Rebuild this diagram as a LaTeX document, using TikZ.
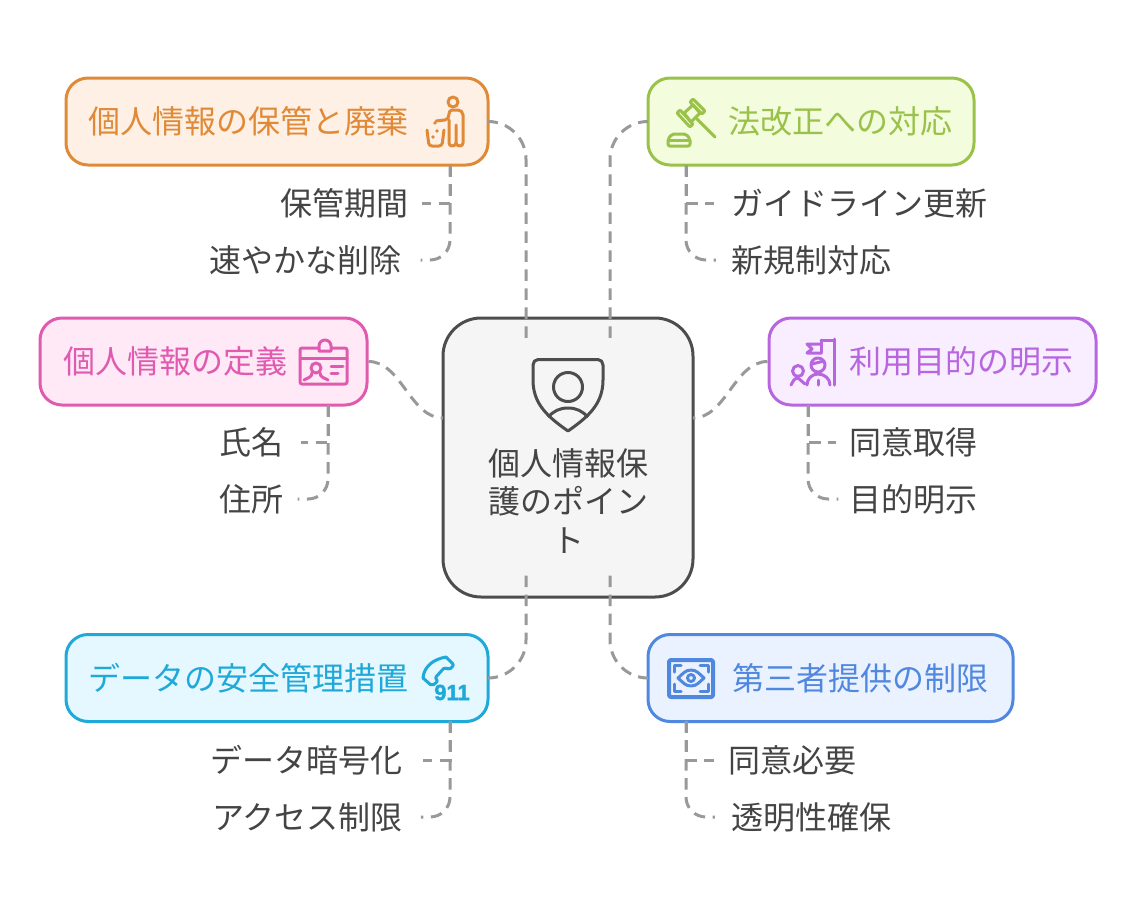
\documentclass[tikz,border=0pt]{standalone}
\usepackage{fontspec}
\setmainfont{Noto Sans CJK JP}
\newfontfamily\numfont[BoldFeatures={FakeBold=1.5}]{Liberation Sans}
\usetikzlibrary{arrows}
\definecolor{inkgray}{HTML}{444444}
\definecolor{linkgray}{HTML}{999999}
\definecolor{hubline}{HTML}{4D4D4D}
\definecolor{hubfill}{HTML}{F5F5F5}
\definecolor{keepline}{HTML}{E08A38}
\definecolor{keepfill}{HTML}{FFF0E5}
\definecolor{lawline}{HTML}{9AC24A}
\definecolor{lawfill}{HTML}{F3FCDD}
\definecolor{defline}{HTML}{E05BB0}
\definecolor{deffill}{HTML}{FFE9F6}
\definecolor{purpline}{HTML}{B866E0}
\definecolor{purpfill}{HTML}{F8EEFF}
\definecolor{safeline}{HTML}{1FA9D8}
\definecolor{safefill}{HTML}{E5F7FF}
\definecolor{thirdline}{HTML}{5088E0}
\definecolor{thirdfill}{HTML}{EBF2FF}
\tikzset{
	topic/.style={draw=#1line, fill=#1fill, text=#1line, line width=3pt, rounded corners=22pt, minimum height=87pt, inner sep=0pt, font=\fontsize{32}{38.5}\selectfont},
	hub/.style={draw=hubline, fill=hubfill, text=inkgray, line width=3pt, rounded corners=38pt, minimum width=250pt, minimum height=279pt, inner sep=0pt, align=center, font=\fontsize{32}{38.5}\selectfont},
	leaf/.style={text=inkgray, inner xsep=#1, inner ysep=2pt, font=\fontsize{32}{38.5}\selectfont},
	link/.style={draw=linkgray, line width=3pt, dash pattern=on 11.5pt off 7.5pt},
	icon/.style={draw=#1line, line width=3pt, line cap=round, line join=round, fill=none}
}
\begin{document}
\begin{tikzpicture}[x=1pt, y=-1pt]
	\useasboundingbox (0,0) rectangle (1137,916);
	\node[hub]	(HUB) at (568,457.5)	{\rule{0pt}{113pt}個人情報保\\護のポイン\\ト};
	\node[topic=keep, minimum width=422pt]	(KEEP) at (277,121.5)	{個人情報の保管と廃棄\hspace{58pt}\null};
	\node[topic=law, minimum width=326pt]	(LAW) at (811,121.5)	{\hspace*{58pt}法改正への対応};
	\node[topic=def, minimum width=327pt]	(DEFN) at (203.5,361.5)	{個人情報の定義\hspace{57pt}\null};
	\node[topic=purp, minimum width=327pt]	(PURP) at (932.5,361.5)	{\hspace*{58pt}利用目的の明示};
	\node[topic=safe, minimum width=422pt]	(SAFE) at (277,678)	{データの安全管理措置\hspace{58pt}\null};
	\node[topic=third, minimum width=365pt]	(THIRD) at (830.5,678)	{\hspace*{59pt}第三者提供の制限};

	\node[leaf=14pt]	(KEEPA) [below of=KEEP, node distance=81.5pt, xshift=67pt]		{保管期間};
	\node[leaf=19pt]	(KEEPB) [below of=KEEP, node distance=138.5pt, xshift=28.5pt]	{速やかな削除};
	\node[leaf=17pt]	(LAWA) [below of=LAW, node distance=81.5pt, xshift=48.5pt]		{ガイドライン更新};
	\node[leaf=15pt]	(LAWB) [below of=LAW, node distance=138.5pt]					{新規制対応};
	\node[leaf=17pt]	(DEFNA) [below of=DEFN, node distance=80.5pt, xshift=48pt]		{氏名};
	\node[leaf=14pt]	(DEFNB) [below of=DEFN, node distance=137.5pt, xshift=48pt]		{住所};
	\node[leaf=13pt]	(PURPA) [below of=PURP, node distance=80.5pt, xshift=-19pt]		{同意取得};
	\node[leaf=11pt]	(PURPB) [below of=PURP, node distance=137.5pt, xshift=-19pt]	{目的明示};
	\node[leaf=21pt]	(SAFEA) [below of=SAFE, node distance=82pt, xshift=29pt]		{データ暗号化};
	\node[leaf=18pt]	(SAFEB) [below of=SAFE, node distance=139pt, xshift=30.5pt]		{アクセス制限};
	\node[leaf=14pt]	(THIRDA) [below of=THIRD, node distance=82pt, xshift=-38.5pt]	{同意必要};
	\node[leaf=16pt]	(THIRDB) [below of=THIRD, node distance=139pt, xshift=-19.5pt]	{透明性確保};

	\coordinate (HUBTL) at (526,345);
	\coordinate (HUBTR) at (610,345);
	\coordinate (HUBBL) at (526,575);
	\coordinate (HUBBR) at (610,575);
	\coordinate (HUBWN) at (443,418);
	\coordinate (HUBEN) at (693,418);

	\draw[link, rounded corners=38pt]	(KEEP.east) -| (HUBTL);
	\draw[link, rounded corners=38pt]	(LAW.west) -| (HUBTR);
	\draw[link, rounded corners=38pt]	(SAFE.east) -| (HUBBL);
	\draw[link, rounded corners=38pt]	(THIRD.west) -| (HUBBR);
	\draw[link]	(DEFN.east) to[out=0, in=180, looseness=0.9] (HUBWN);
	\draw[link]	(PURP.west) to[out=180, in=0, looseness=0.9] (HUBEN);

	\coordinate (KEEPT) at (450,165);
	\coordinate (LAWT) at (686,165);
	\coordinate (DEFNT) at (328,405);
	\coordinate (PURPT) at (808,405);
	\coordinate (SAFET) at (450,721);
	\coordinate (THIRDT) at (686,721);

	\draw[link]	(KEEPT) |- (KEEPA.east);
	\draw[link, rounded corners=20pt]	(KEEPT) |- (KEEPB.east);
	\draw[link]	(LAWT) |- (LAWA.west);
	\draw[link, rounded corners=20pt]	(LAWT) |- (LAWB.west);
	\draw[link]	(DEFNT) |- (DEFNA.east);
	\draw[link, rounded corners=20pt]	(DEFNT) |- (DEFNB.east);
	\draw[link]	(PURPT) |- (PURPA.west);
	\draw[link, rounded corners=20pt]	(PURPT) |- (PURPB.west);
	\draw[link]	(SAFET) |- (SAFEA.east);
	\draw[link, rounded corners=20pt]	(SAFET) |- (SAFEB.east);
	\draw[link]	(THIRDT) |- (THIRDA.west);
	\draw[link, rounded corners=20pt]	(THIRDT) |- (THIRDB.west);

	% bin and person
	\draw[icon=keep]	(453,102) circle (5pt);
	\draw[icon=keep]	(436,121) -- (445,120) to[out=0, in=-90] (449,114) to[out=90, in=180] (452,110) -- (458,110) to[out=0, in=90] (463,115) -- (463,143) to[out=-90, in=0] (460,146) to[out=180, in=-90] (456,143) -- (456,125);
	\draw[icon=keep]	(449,120) -- (449,143) to[out=-90, in=180] (452,146) to[out=0, in=-90] (456,143);
	\draw[icon=keep, rounded corners=3pt]	(427,130) -- (429,146) -- (442,146) -- (444,130);
	\fill[keepline]	(435,123) circle (1.8pt) (437,131) circle (1.8pt) (433,137) circle (1.8pt);

	% gavel
	\draw[icon=law]	(697,119) -- (715,137);
	\draw[icon=law]	(684,113) -- (693,105) -- (700,113) -- (691,122) -- cycle;
	\draw[icon=law, rounded corners=1pt]	(677,113) -- (680,110) -- (693,124) -- (690,127) -- cycle;
	\draw[icon=law, rounded corners=1pt]	(690,102) -- (693,99) -- (705,111) -- (702,114) -- cycle;
	\draw[icon=law, rounded corners=2pt]	(668,146) -- (668,139) -- (672,134) -- (686,134) -- (690,139) -- (690,146) -- cycle;
	\draw[icon=law]	(668,140) -- (690,140);

	% badge
	\draw[icon=def, rounded corners=2pt]	(300,348) rectangle (347,384);
	\draw[icon=def, fill=deffill]	(319,351) -- (319,346) to[out=90, in=180] (325,340) to[out=0, in=90] (331,346) -- (331,351) -- cycle;
	\draw[icon=def]	(300,358) -- (347,358);
	\draw[icon=def]	(316,368) circle (5pt);
	\draw[icon=def]	(304,380) to[out=30, in=-90] (312,373);
	\draw[icon=def]	(328,380) to[out=150, in=-90] (320,373);
	\draw[icon=def]	(331,366) -- (343,366);
	\draw[icon=def]	(331,373) -- (338,373);

	% flag and people
	\draw[icon=purp]	(834,339) -- (834,385);
	\draw[icon=purp]	(821,340) -- (834,340);
	\draw[icon=purp]	(821,340) -- (821,353);
	\draw[icon=purp]	(821,344) -- (807,344) -- (812,349) -- (807,353) -- (821,353);
	\draw[icon=purp]	(818,365) circle (7pt);
	\draw[icon=purp]	(812,364) -- (824,361);
	\draw[icon=purp]	(807,385) to[out=90, in=180] (818,374) to[out=0, in=90] (830,385);
	\draw[icon=purp]	(818,380) -- (818,385);
	\draw[icon=purp]	(798,371) circle (5.5pt);
	\draw[icon=purp]	(791,385) to[out=60, in=180] (798,378) -- (805,384);

	% phone
	\draw[icon=safe, rounded corners=2pt]	(446,657) -- (454,665) -- (449,670) -- (445,667) -- (435,678) -- (438,681) -- (432,686) -- (423,678);
	\draw[icon=safe]	(423,678) to[out=85, in=190] (446,657);
	\node[text=safeline, inner sep=0pt, font=\numfont\bfseries\fontsize{22}{22}\selectfont]	(PHONE) at (452,692.5) {911};

	% eye
	\draw[icon=third, rounded corners=2pt, line width=4pt]	(669,660) rectangle (713,697);
	\draw[icon=third]	(674,672) -- (674,665) -- (681,665);
	\draw[icon=third]	(708,672) -- (708,665) -- (700,665);
	\draw[icon=third]	(674,684) -- (674,691) -- (681,691);
	\draw[icon=third]	(708,684) -- (708,691) -- (700,691);
	\draw[icon=third]	(678,678) to[out=40, in=180] (691,670) to[out=0, in=140] (704,678) to[out=-140, in=0] (691,686) to[out=180, in=-40] cycle;
	\draw[icon=third]	(691,678) circle (3.5pt);

	% shield
	\draw[draw=hubline, line width=3pt, line join=round]	(538,359.5) -- (598,359.5) to[out=0, in=90] (603,365) -- (603,380) to[out=-90, in=35] (568,431) to[out=145, in=-90] (533,380) -- (533,365) to[out=90, in=180] cycle;
	\draw[draw=hubline, line width=3pt]	(568,387) circle (14.5pt);
	\draw[draw=hubline, line width=3pt]	(548,417) to[out=45, in=180] (568,408) to[out=0, in=135] (588,417);
\end{tikzpicture}
\end{document}
